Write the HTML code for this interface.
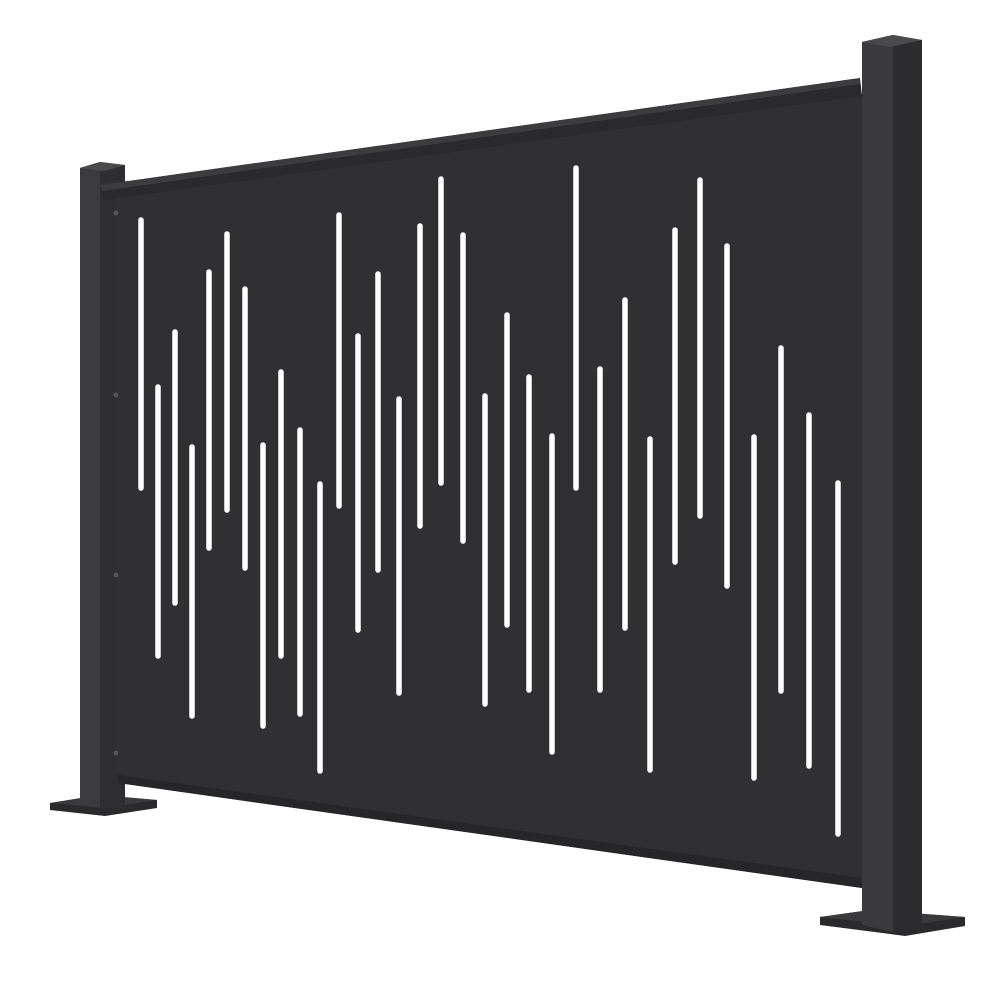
<!DOCTYPE html>
<html><head><meta charset="utf-8"><style>html,body{margin:0;padding:0;background:#fff}svg{display:block}</style></head>
<body>
<svg width="999" height="999" viewBox="0 0 999 999" xmlns="http://www.w3.org/2000/svg">
<rect width="999" height="999" fill="#fff"/>
<!-- left base plate -->
<polygon points="50,803 100,795 157,800 157,808 105,816 50,810" fill="#2a2a2c"/>
<polygon points="50,803 100,795 157,800 105,808" fill="#3a3a3c"/>
<!-- left post -->
<polygon points="80,168 100,162 125,165 125,808 100,808 80,805" fill="#2e2e30"/>
<polygon points="80,168 100,162 100,808 80,805" fill="#3b3b3d"/>
<polygon points="80,168 100,162 125,165 104,171" fill="#4a4a4c"/>
<circle cx="116" cy="213" r="2.5" fill="#555"/>
<circle cx="116" cy="395" r="2.5" fill="#555"/>
<circle cx="116" cy="575" r="2.5" fill="#555"/>
<circle cx="116" cy="753" r="2.5" fill="#555"/>
<!-- panel -->
<polygon points="118,196 862,94 862,888 118,783" fill="#303032"/>
<polygon points="118,775 862,878 862,888 118,783" fill="#262628"/>
<!-- top rail -->
<polygon points="100,185 860,78 862,96 104,200" fill="#2a2a2c"/>
<polygon points="100,185 860,78 860,84 102,191" fill="#3c3c3e"/>
<!-- slots -->
<g stroke="#fff" stroke-width="5.5" stroke-linecap="round" fill="none">
<line x1="141" y1="220" x2="141" y2="488"/>
<line x1="158" y1="387" x2="158" y2="656"/>
<line x1="175" y1="332" x2="175" y2="603"/>
<line x1="192" y1="447" x2="192" y2="716"/>
<line x1="209" y1="272" x2="209" y2="548"/>
<line x1="227" y1="234" x2="227" y2="510"/>
<line x1="245" y1="289" x2="245" y2="568"/>
<line x1="263" y1="445" x2="263" y2="726"/>
<line x1="281" y1="372" x2="281" y2="656"/>
<line x1="300" y1="430" x2="300" y2="714"/>
<line x1="320" y1="484" x2="320" y2="771"/>
<line x1="339" y1="215" x2="339" y2="506"/>
<line x1="358" y1="336" x2="358" y2="630"/>
<line x1="378" y1="274" x2="378" y2="570"/>
<line x1="399" y1="399" x2="399" y2="693"/>
<line x1="420" y1="226" x2="420" y2="526"/>
<line x1="441" y1="179" x2="441" y2="483"/>
<line x1="463" y1="235" x2="463" y2="541"/>
<line x1="485" y1="396" x2="485" y2="704"/>
<line x1="507" y1="315" x2="507" y2="625"/>
<line x1="529" y1="377" x2="529" y2="690"/>
<line x1="552" y1="436" x2="552" y2="752"/>
<line x1="576" y1="168" x2="576" y2="488"/>
<line x1="600" y1="369" x2="600" y2="690"/>
<line x1="625" y1="300" x2="625" y2="628"/>
<line x1="650" y1="439" x2="650" y2="770"/>
<line x1="675" y1="230" x2="675" y2="562"/>
<line x1="700" y1="180" x2="700" y2="516"/>
<line x1="727" y1="246" x2="727" y2="586"/>
<line x1="754" y1="437" x2="754" y2="778"/>
<line x1="781" y1="348" x2="781" y2="691"/>
<line x1="809" y1="415" x2="809" y2="766"/>
<line x1="838" y1="483" x2="838" y2="834"/>
</g>
<!-- right base plate -->
<polygon points="820,917 870,910 965,917 965,926 905,936 820,925" fill="#2a2a2c"/>
<polygon points="820,917 870,910 965,917 905,926" fill="#3a3a3c"/>
<!-- right post -->
<polygon points="862,42 893,35 922,40 922,928 893,932 862,925" fill="#2c2c2e"/>
<polygon points="862,42 893,35 893,932 862,925" fill="#3a3a3c"/>
<polygon points="862,42 893,35 922,40 890,47" fill="#4a4a4c"/>
</svg>
</body></html>
